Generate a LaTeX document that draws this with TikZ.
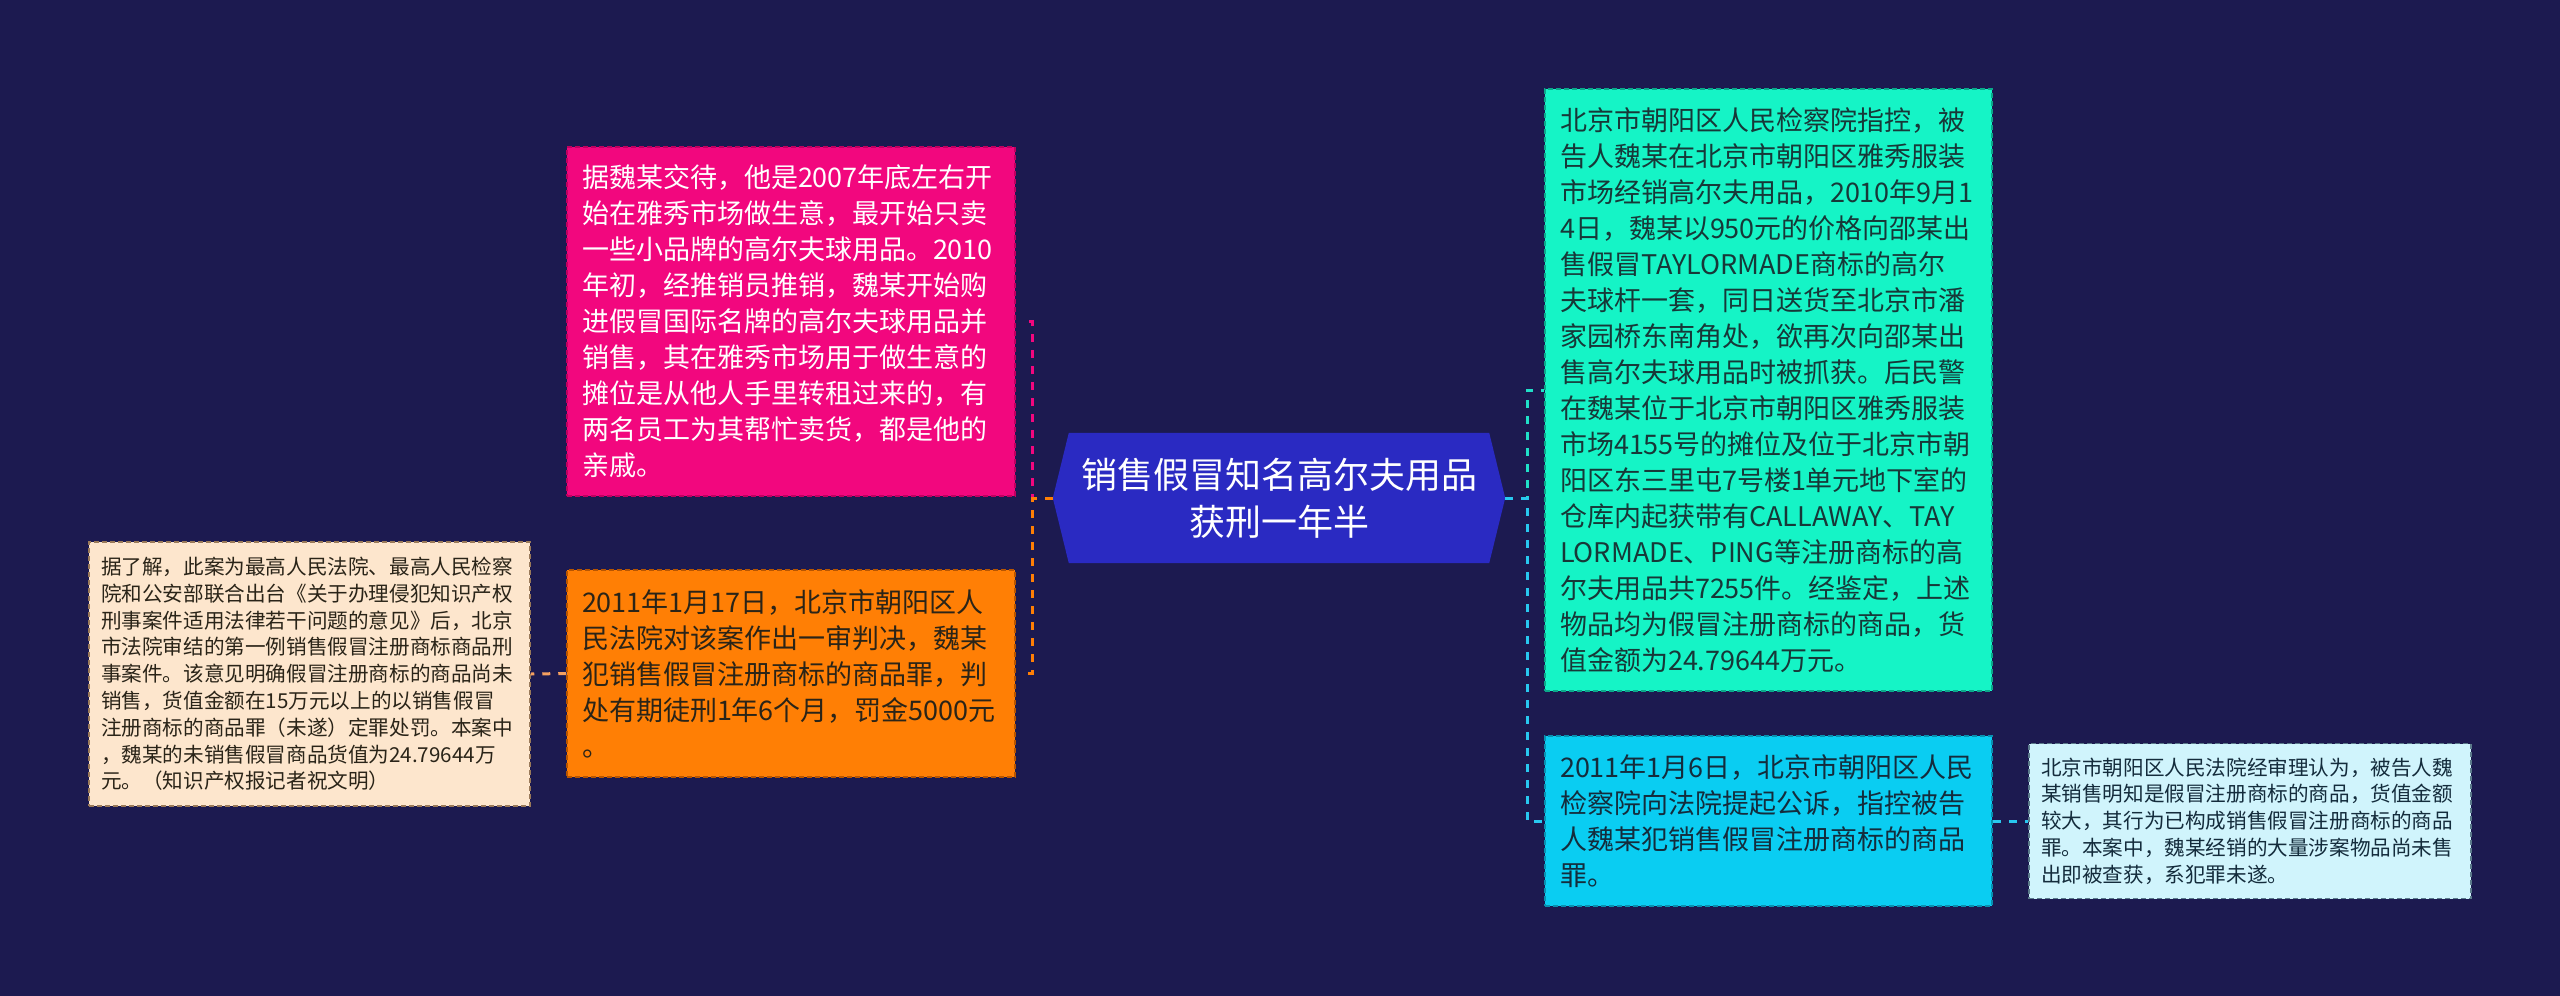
\documentclass[tikz,border=0pt]{standalone}
\usepackage{fontspec}
\newfontfamily\cjk{Noto Sans CJK SC}
\usetikzlibrary{calc,backgrounds}
\definecolor{bg}{HTML}{1C1A50}
\definecolor{hexc}{HTML}{2A2AC2}
\definecolor{pinkc}{HTML}{F2077E}
\definecolor{pinkd}{HTML}{C00060}
\definecolor{orangec}{HTML}{FF7F05}
\definecolor{oranged}{HTML}{B85500}
\definecolor{orangel}{HTML}{F5A060}
\definecolor{peachc}{HTML}{FDE6CD}
\definecolor{peachd}{HTML}{9A7A5A}
\definecolor{tealc}{HTML}{15F4C6}
\definecolor{teald}{HTML}{0AA88A}
\definecolor{tealline}{HTML}{20E0C8}
\definecolor{bluec}{HTML}{0ACDF2}
\definecolor{blued}{HTML}{0890B0}
\definecolor{blueline}{HTML}{28C8F0}
\definecolor{lightc}{HTML}{D0F4FC}
\definecolor{lightd}{HTML}{5A7A8A}
\definecolor{darktxt}{HTML}{2A2418}
\definecolor{tealtxt}{HTML}{173838}
\definecolor{bluetxt}{HTML}{142C3C}
\begin{document}
\begin{tikzpicture}[x=1pt,y=-1pt,
  box/.style={rectangle, inner xsep=15pt, inner ysep=0pt, align=left, anchor=center,
    font=\cjk\fontsize{27pt}{36pt}\selectfont, dash pattern=on 5pt off 3pt, line width=1.5pt},
  smallbox/.style={box, inner xsep=12pt, font=\cjk\fontsize{20.6pt}{26.8pt}\selectfont},
  conn/.style={line width=3pt, dash pattern=on 8pt off 8pt}]
\useasboundingbox (0,0) rectangle (2560,996);

\node[text=white, font=\cjk\fontsize{36pt}{47pt}\selectfont, align=center,
  minimum width=452pt, minimum height=130pt, inner sep=0pt] (c) at (1279,498)
  {销售假冒知名高尔夫用品\\获刑一年半};
\begin{scope}[on background layer]
\fill[bg] (0,0) rectangle (2560,996);
\fill[hexc] (c.west) -- ($(c.north west)+(16,0)$) -- ($(c.north east)+(-16,0)$) -- (c.east)
  -- ($(c.south east)+(-16,0)$) -- ($(c.south west)+(16,0)$) -- cycle;
\end{scope}

\node[box, fill=pinkc, draw=pinkd, text=white, text width=418pt, minimum width=448pt,
  minimum height=349pt] (pink) at (791,321.5)
  {据魏某交待，他是2007年底左右开\\始在雅秀市场做生意，最开始只卖\\一些小品牌的高尔夫球用品。2010\\年初，经推销员推销，魏某开始购\\进假冒国际名牌的高尔夫球用品并\\销售，其在雅秀市场用于做生意的\\摊位是从他人手里转租过来的，有\\两名员工为其帮忙卖货，都是他的\\亲戚。};

\node[box, fill=orangec, draw=oranged, text=darktxt, text width=418pt, minimum width=448pt,
  minimum height=207pt] (orange) at (791,673.5)
  {2011年1月17日，北京市朝阳区人\\民法院对该案作出一审判决，魏某\\犯销售假冒注册商标的商品罪，判\\处有期徒刑1年6个月，罚金5000元\\。};

\node[smallbox, fill=peachc, draw=peachd, text=darktxt, text width=417pt, minimum width=441pt,
  minimum height=264pt] (peach) at (309.5,674)
  {据了解，此案为最高人民法院、最高人民检察\\院和公安部联合出台《关于办理侵犯知识产权\\刑事案件适用法律若干问题的意见》后，北京\\市法院审结的第一例销售假冒注册商标商品刑\\事案件。该意见明确假冒注册商标的商品尚未\\销售，货值金额在15万元以上的以销售假冒\\注册商标的商品罪（未遂）定罪处罚。本案中\\，魏某的未销售假冒商品货值为24.79644万\\元。（知识产权报记者祝文明）};

\node[box, fill=tealc, draw=teald, text=tealtxt, text width=417pt, minimum width=447pt,
  minimum height=602pt] (teal) at (1768.5,390)
  {北京市朝阳区人民检察院指控，被\\告人魏某在北京市朝阳区雅秀服装\\市场经销高尔夫用品，2010年9月1\\4日，魏某以950元的价格向邵某出\\售假冒TAYLORMADE商标的高尔\\夫球杆一套，同日送货至北京市潘\\家园桥东南角处，欲再次向邵某出\\售高尔夫球用品时被抓获。后民警\\在魏某位于北京市朝阳区雅秀服装\\市场4155号的摊位及位于北京市朝\\阳区东三里屯7号楼1单元地下室的\\仓库内起获带有CALLAWAY、TAY\\LORMADE、PING等注册商标的高\\尔夫用品共7255件。经鉴定，上述\\物品均为假冒注册商标的商品，货\\值金额为24.79644万元。};

\node[box, fill=bluec, draw=blued, text=bluetxt, text width=417pt, minimum width=447pt,
  minimum height=170pt] (blue) at (1768.5,821)
  {2011年1月6日，北京市朝阳区人民\\检察院向法院提起公诉，指控被告\\人魏某犯销售假冒注册商标的商品\\罪。};

\node[smallbox, fill=lightc, draw=lightd, text=bluetxt, text width=418pt, minimum width=442pt,
  minimum height=155pt] (light) at (2250,821)
  {北京市朝阳区人民法院经审理认为，被告人魏\\某销售明知是假冒注册商标的商品，货值金额\\较大，其行为已构成销售假冒注册商标的商品\\罪。本案中，魏某经销的大量涉案物品尚未售\\出即被查获，系犯罪未遂。};

\draw[conn, pinkc, shorten >=7pt] (c.west) -- ++(-20,0) |- (pink.east);
\draw[conn, orangec, shorten >=7pt] (c.west) -- ++(-20,0) |- (orange.east);
\draw[conn, tealline] (c.east) -- ++(22,0) |- (teal.west);
\draw[conn, blueline] (c.east) -- ++(22,0) |- (blue.west);
\draw[conn, blueline] (blue.east) -- (light.west);
\draw[conn, orangel] (orange.west) -- (peach.east);
\end{tikzpicture}
\end{document}
